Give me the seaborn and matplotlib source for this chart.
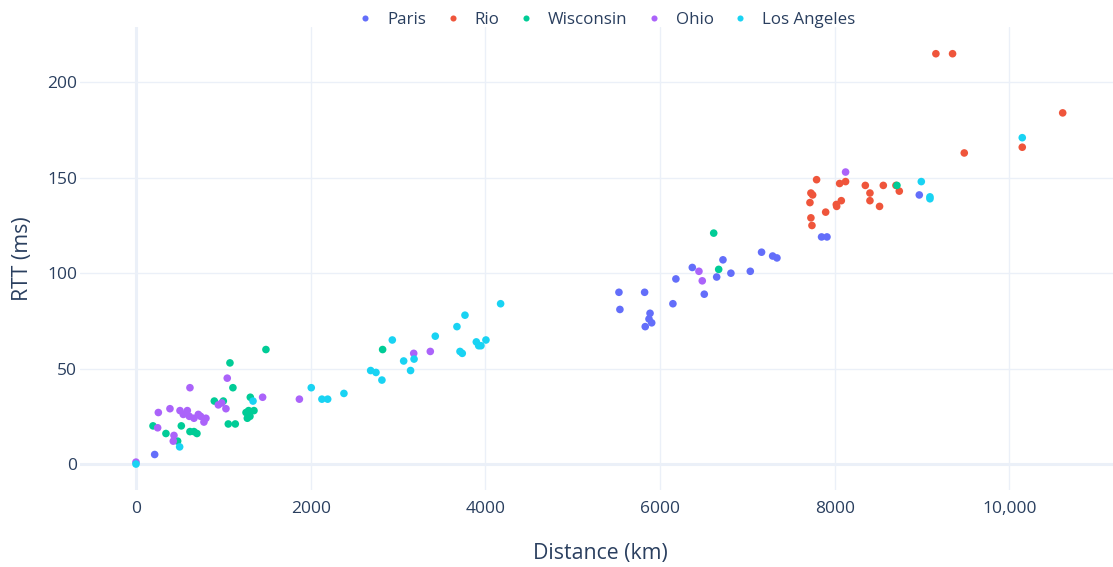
import matplotlib
matplotlib.use("Agg")
import matplotlib.pyplot as plt
import matplotlib.ticker as mticker
import seaborn as sns
import pandas as pd

# ---- data (distance km, RTT ms) ----
paris_x = [214, 5530, 5824, 5541, 5886, 5874, 5905, 5831, 6148, 6182, 6370, 6507, 6649,
           6721, 6812, 7034, 7163, 7290, 7339, 7850, 7912, 8969]
paris_y = [5, 90, 90, 81, 79, 76, 74, 72, 84, 97, 103, 89, 98,
           107, 100, 101, 111, 109, 108, 119, 119, 141]

rio_x = [7793, 7728, 7748, 7717, 7728, 7740, 7897, 8019, 8023, 8076, 8057, 8125, 8351,
         8404, 8404, 8514, 8557, 8702, 8740, 9484, 9159, 9350, 10611, 10148]
rio_y = [149, 142, 141, 137, 129, 125, 132, 136, 135, 138, 147, 148, 146,
         142, 138, 135, 146, 146, 143, 163, 215, 215, 184, 166]

wisconsin_x = [1488, 1076, 1110, 897, 1000, 1309, 1260, 1290, 1351, 1275, 1305, 1057, 1137,
               195, 343, 519, 618, 664, 698, 477, 2824, 6615, 6672, 8713]
wisconsin_y = [60, 53, 40, 33, 33, 35, 27, 28, 28, 24, 25, 21, 21,
               20, 16, 20, 17, 17, 16, 12, 60, 121, 102, 146]

ohio_x = [1045, 618, 943, 981, 1030, 1450, 1871, 256, 389, 504, 588, 542, 611, 664,
          714, 740, 801, 778, 248, 435, 427, 0, 3180, 3370, 6446, 6484, 8125]
ohio_y = [45, 40, 31, 32, 29, 35, 34, 27, 29, 28, 28, 26, 25, 24,
          26, 25, 24, 22, 19, 15, 12, 1, 58, 59, 101, 96, 153]

la_x = [1340, 500, 0, 2007, 2129, 2195, 2381, 2687, 2748, 2816, 2935, 3065, 3184, 3144,
        3427, 3675, 3767, 3710, 3736, 3897, 3924, 3950, 4007, 4175, 8992, 9091, 9091, 10148]
la_y = [33, 9, 0, 40, 34, 34, 37, 49, 48, 44, 65, 54, 55, 49,
        67, 72, 78, 59, 58, 64, 62, 62, 65, 84, 148, 140, 139, 171]

series_names = ["Paris", "Rio", "Wisconsin", "Ohio", "Los Angeles"]
series_x = [paris_x, rio_x, wisconsin_x, ohio_x, la_x]
series_y = [paris_y, rio_y, wisconsin_y, ohio_y, la_y]
colors = ["#636EFA", "#EF553B", "#00CC96", "#AB63FA", "#19D3F3"]

rows = []
for name, xs, ys in zip(series_names, series_x, series_y):
    for x, y in zip(xs, ys):
        rows.append({"Distance (km)": x, "RTT (ms)": y, "city": name})
df = pd.DataFrame(rows)

# ---- style ----
sns.set_style("white")
plt.rcParams["font.family"] = ["Open Sans", "DejaVu Sans"]
text_color = "#2a3f5f"
grid_color = "#EBF0F8"

fig = plt.figure(figsize=(11.13, 5.67), dpi=100)
W, H = 1113, 567
ax = fig.add_axes([80 / W, 1 - 490 / H, (1113 - 80) / W, (490 - 27) / H])

sns.scatterplot(data=df, x="Distance (km)", y="RTT (ms)", hue="city",
                hue_order=series_names, palette=colors, s=30, linewidth=0,
                ax=ax, zorder=3, legend=True)

ax.set_xlim(-641, 11187)
ax.set_ylim(-13.6, 229)
ax.set_xticks([0, 2000, 4000, 6000, 8000, 10000])
ax.set_yticks([0, 50, 100, 150, 200])
ax.xaxis.set_major_formatter(mticker.FuncFormatter(
    lambda v, p: f"{int(v):,}" if v >= 10000 else f"{int(v)}"))

ax.grid(True, color=grid_color, linewidth=1, zorder=0)
ax.axhline(0, color=grid_color, linewidth=2.2, zorder=1)
ax.axvline(0, color=grid_color, linewidth=2.2, zorder=1)
for sp in ax.spines.values():
    sp.set_visible(False)
ax.tick_params(axis="both", length=0, labelsize=12.5, labelcolor=text_color)
ax.tick_params(axis="x", pad=8)
ax.tick_params(axis="y", pad=2)

ax.set_xlabel("Distance (km)", fontsize=15.3, color=text_color)
ax.set_ylabel("RTT (ms)", fontsize=15.3, color=text_color, labelpad=10)
ax.xaxis.set_label_coords((600.5 - 80) / 1033, -(553 - 490) / 463, transform=ax.transAxes)
ax.xaxis.label.set_va("center")

leg = ax.get_legend()
handles = leg.legend_handles
labels = [t.get_text() for t in leg.get_texts()]
leg.remove()
fig.legend(handles, labels, loc="center", bbox_to_anchor=(606 / W, 1 - 20 / H),
           ncol=5, frameon=False, fontsize=12.2, labelcolor=text_color,
           handletextpad=0.8, columnspacing=1.05, markerscale=0.8,
           handlelength=1.0)

fig.savefig("out.png", dpi=100)
